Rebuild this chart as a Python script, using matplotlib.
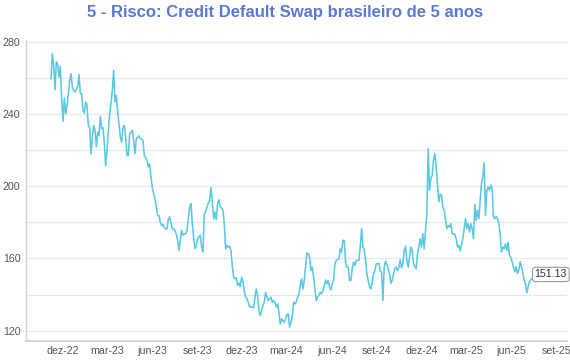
import numpy as np
import pandas as pd
import matplotlib
matplotlib.use("Agg")
import matplotlib.pyplot as plt
from matplotlib.ticker import MultipleLocator

plt.rcParams['font.family'] = ['Liberation Sans', 'DejaVu Sans']

# CDS 5 anos (pontos bps), do inicio ao fim
cds_2022_2023 = [
    259.6, 273.5, 267, 253.5, 269, 267.6, 260.5, 266.5, 247.6,
    236, 249, 240, 244.8, 251.3, 258.7, 262.4, 255, 253,
    252.2, 254, 255, 261.9, 251.3, 251.3, 242, 240.6, 246.7,
    244.8, 233.7, 232.4, 218, 227, 233.7, 231, 222, 230,
    228, 238.7, 232, 232.4, 223.5, 211.5, 220, 231, 240.2, 246,
    253, 264.3, 246.7, 250.4, 241, 234.6, 227.2, 224.4, 232.8, 233.7,
    227.2, 217, 217, 229, 230, 231, 225.4, 218, 226.3, 227.2,
    228, 226.3, 226.3, 225.4, 217, 216, 214.3, 210.6, 212.4, 205,
    199.4, 195.7, 193, 188.3, 183.7, 183.7, 180, 178.1, 179, 177.2,
    176.3, 176.3, 181.9, 183.1, 179.4, 176.3, 176.3, 175.4, 173.5, 170.2,
    164.4, 170, 175.6, 172.8, 173.5, 173.7, 175.6, 182, 188.5, 190.4,
    179.3, 171.9, 165.4, 167.2, 170.9,
]
cds_2023_2024 = [
    172.2, 172.8, 166.3, 163.5, 184.8, 185.7, 188.5, 190.4, 192.2, 199.3,
    191.3, 182, 185.7, 181.5, 190.4, 192.6, 188.5, 188.1, 186.7, 179.3,
    165.4, 167.2, 166.3, 166.7, 164.4, 156.1, 149.6, 148.7, 149.3, 145,
    146.3, 144.4, 149.6, 146.9, 142.2, 138.5, 137.6, 135.7, 133.3, 133,
    133, 132.6, 138.5, 143.1, 139.4, 131.1, 128.3, 131.1, 133.9, 135.7,
    141.3, 138.5, 136.7, 137.6, 138.5, 135.7, 136.7, 135.7, 133, 134.8,
    130.2, 123.7, 126.5, 125.6, 124.6, 126.5, 128.9, 129.3, 121.9, 124.6,
    127.4, 135.7, 134.8, 135.7, 138.5, 140.4, 145, 148.7, 143.1, 147.8,
    155.2, 163, 162.6, 160.7, 153.3, 155.2, 149.6, 143.1, 136.7, 138.5,
    139.4, 141.3, 140.4, 142.2, 145, 148.1, 145.9, 147.8, 144.1, 142.6,
    145.9, 147.8, 157, 158.9, 159.3, 159.8, 165.4, 163.5, 170, 170,
    158, 155.2, 155.2, 147.8, 147.8, 154.3, 158, 156.1, 158.9, 158.9,
    158.9, 166.3, 176.5, 166.3, 165.4, 158.9, 151.5, 147.8, 144.1, 143.1,
    146.9, 151.5, 153.3, 157,
]
cds_2024_2025 = [
    157, 157.4, 153.3, 152.4, 136.7, 155.2, 158.5, 156.7, 154.3, 151.5,
    146.3, 147.8, 151.5, 154.3, 155.2, 153.3, 155.2, 159.3, 154.8, 157,
    164.4, 166.7, 158.9, 155.2, 160.7, 166.3, 164.4, 157, 155.6, 154.3,
    162.6, 166.3, 170.9, 166.3, 173.7, 165.4, 175.6, 184.8, 220.9, 197.8,
    204.3, 206.1, 214.4, 218.1, 210.7, 200.6, 191.3, 195.6, 195, 188.5,
    186.7, 181.1, 176.5, 178.3, 177.4, 179.3, 173.7, 173.7, 173.3, 170.9,
    166.3, 167.2, 164.1, 168.1, 170.9, 176.5, 182, 176.5, 179.3, 174.6,
    179.3, 176.5, 170.9, 190, 181.1, 186.7, 182, 192.2, 201.5, 205.2,
    213, 183.9, 197.8, 199.6, 197.8, 200.6, 198.7, 183, 182, 183.3,
    182, 179.3, 173.7, 163.5, 166.3, 165.4, 168.1, 164.4, 169.1, 161.7,
    160.7, 158, 155.2,
    152.6, 155.4, 151.7, 153.5, 158.1, 155.4, 151.7, 148, 146.1, 140.9,
    144.3, 147, 148.3, 148.9, 148, 148, 147, 151.13,
]
cds = np.array(cds_2022_2023 + cds_2023_2024 + cds_2024_2025)
dates = pd.date_range("2022-11-07", "2025-07-25", periods=len(cds))

tick_dates = pd.date_range("2022-12-01", "2025-09-01", freq="3MS")
tick_labels = ["dez-22", "mar-23", "jun-23", "set-23", "dez-23", "mar-24",
               "jun-24", "set-24", "dez-24", "mar-25", "jun-25", "set-25"]

title = "5 - Risco: Credit Default Swap brasileiro de 5 anos"

fig = plt.figure(figsize=(5.7, 3.6), dpi=100)
ax = fig.add_axes([0.0456, 0.0536, 0.949, 0.835])

ax.plot(dates, cds, color="#5BC9E2", lw=1.15, zorder=3)

ax.set_xlim(pd.Timestamp("2022-09-17"), pd.Timestamp("2025-09-23"))
ax.set_ylim(114.4, 281)
ax.yaxis.set_major_locator(MultipleLocator(40))
ax.yaxis.set_minor_locator(MultipleLocator(20))
ax.grid(which="both", axis="y", color="#e8e8e8", lw=0.9, zorder=0)
ax.set_xticks(tick_dates)
ax.set_xticklabels(tick_labels)
ax.tick_params(axis="both", which="both", length=0, labelsize=7.7, colors="#555555")
ax.tick_params(axis="y", pad=4)
ax.tick_params(axis="x", pad=3.5)

for side in ["top", "right"]:
    ax.spines[side].set_visible(False)
ax.spines["left"].set_color("#d4d4d4")
ax.spines["left"].set_linewidth(1.0)
ax.spines["bottom"].set_color("#d4d4d4")
ax.spines["bottom"].set_linewidth(1.4)

# rotulo do ultimo valor
ax.annotate(f"{cds[-1]:.2f}", xy=(dates[-1], cds[-1]), xytext=(-2, 0),
            textcoords="offset points", ha="left", va="center",
            fontsize=7.7, color="#333333", zorder=5, annotation_clip=False,
            bbox=dict(boxstyle="round,pad=0.2,rounding_size=0.3", fc="white",
                      ec="#999999", lw=0.8))

fig.text(0.5, 0.965, title, ha="center", va="center", fontsize=12,
         fontweight="bold", color="#5A78D4")

fig.savefig("out.png", dpi=100)
